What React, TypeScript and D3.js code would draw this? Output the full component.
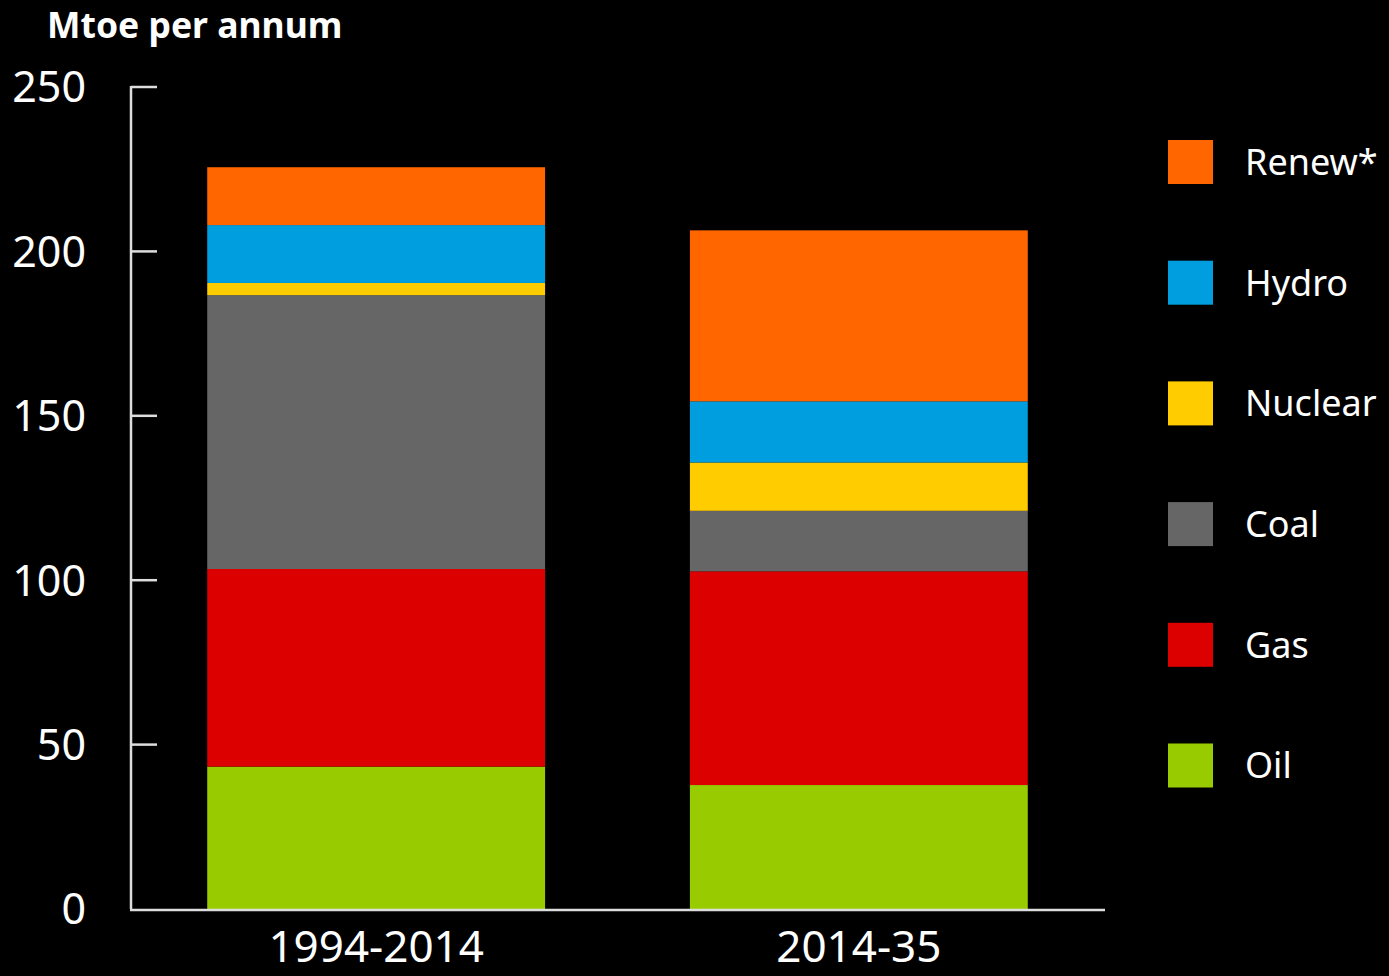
import React from 'react';
import { scaleBand, scaleLinear, stack } from 'd3';

// chart values
const periods = ['1994-2014', '2014-35'];
const fuels = ['Oil', 'Gas', 'Coal', 'Nuclear', 'Hydro', 'Renew*'];
const oil = [43.3, 37.7];
const gas = [60.1, 65.0];
const coal = [83.3, 18.4];
const nuclear = [3.7, 14.7];
const hydro = [17.6, 18.6];
const renew = [17.6, 52.0];
const yTicks = [0, 50, 100, 150, 200, 250];

const colors = {
  'Oil': '#99cc00',
  'Gas': '#dd0000',
  'Coal': '#666666',
  'Nuclear': '#ffcc00',
  'Hydro': '#009ede',
  'Renew*': '#ff6600',
};

const W = 1389;
const H = 976;
const FONT = '"Noto Sans", "Open Sans", sans-serif';

export default function App() {
  // table for d3.stack
  const rows = periods.map((p, i) => ({
    period: p,
    'Oil': oil[i],
    'Gas': gas[i],
    'Coal': coal[i],
    'Nuclear': nuclear[i],
    'Hydro': hydro[i],
    'Renew*': renew[i],
  }));
  const series = stack().keys(fuels)(rows);

  const x = scaleBand().domain(periods).range([130, 1105]).paddingInner(0.3).paddingOuter(0.16);
  const y = scaleLinear().domain([0, 250]).range([909, 87]);

  const legendOrder = [...fuels].reverse();

  return (
    <svg width={W} height={H} style={{ position: 'absolute', left: 0, top: 0, background: '#000' }}>
      <rect x={0} y={0} width={W} height={H} fill="#000" />

      <text x={47} y={38} fill="#fff" fontFamily={FONT} fontWeight="bold" fontSize={35.5}>
        Mtoe per annum
      </text>

      {/* bars */}
      {series.map(s => (
        <g key={s.key} fill={colors[s.key]}>
          {s.map((d, i) => (
            <rect
              key={i}
              x={x(periods[i])}
              width={x.bandwidth()}
              y={y(d[1])}
              height={y(d[0]) - y(d[1])}
            />
          ))}
        </g>
      ))}

      {/* y axis */}
      <line x1={131} x2={131} y1={y(250) - 1} y2={y(0)} stroke="#ddd" strokeWidth={2.5} />
      {yTicks.map(t => (
        <g key={t}>
          {t > 0 && <line x1={131} x2={157} y1={y(t)} y2={y(t)} stroke="#ddd" strokeWidth={2.5} />}
          <text x={86} y={y(t)} dy="0.36em" textAnchor="end" fill="#fff" fontFamily={FONT} fontSize={43}>
            {t}
          </text>
        </g>
      ))}

      {/* baseline */}
      <line x1={130} x2={1105} y1={y(0) + 1} y2={y(0) + 1} stroke="#ddd" strokeWidth={2.5} />

      {/* category labels */}
      {periods.map(p => (
        <text key={p} x={x(p) + x.bandwidth() / 2} y={962} textAnchor="middle" fill="#fff" fontFamily={FONT} fontSize={44}>
          {p}
        </text>
      ))}

      {/* legend */}
      {legendOrder.map((f, i) => (
        <g key={f} transform={`translate(1168, ${140 + i * 120.7})`}>
          <rect width={45} height={44} fill={colors[f]} />
          <text x={77} y={22} dy="0.36em" fill="#fff" fontFamily={FONT} fontSize={36}>
            {f}
          </text>
        </g>
      ))}
    </svg>
  );
}
